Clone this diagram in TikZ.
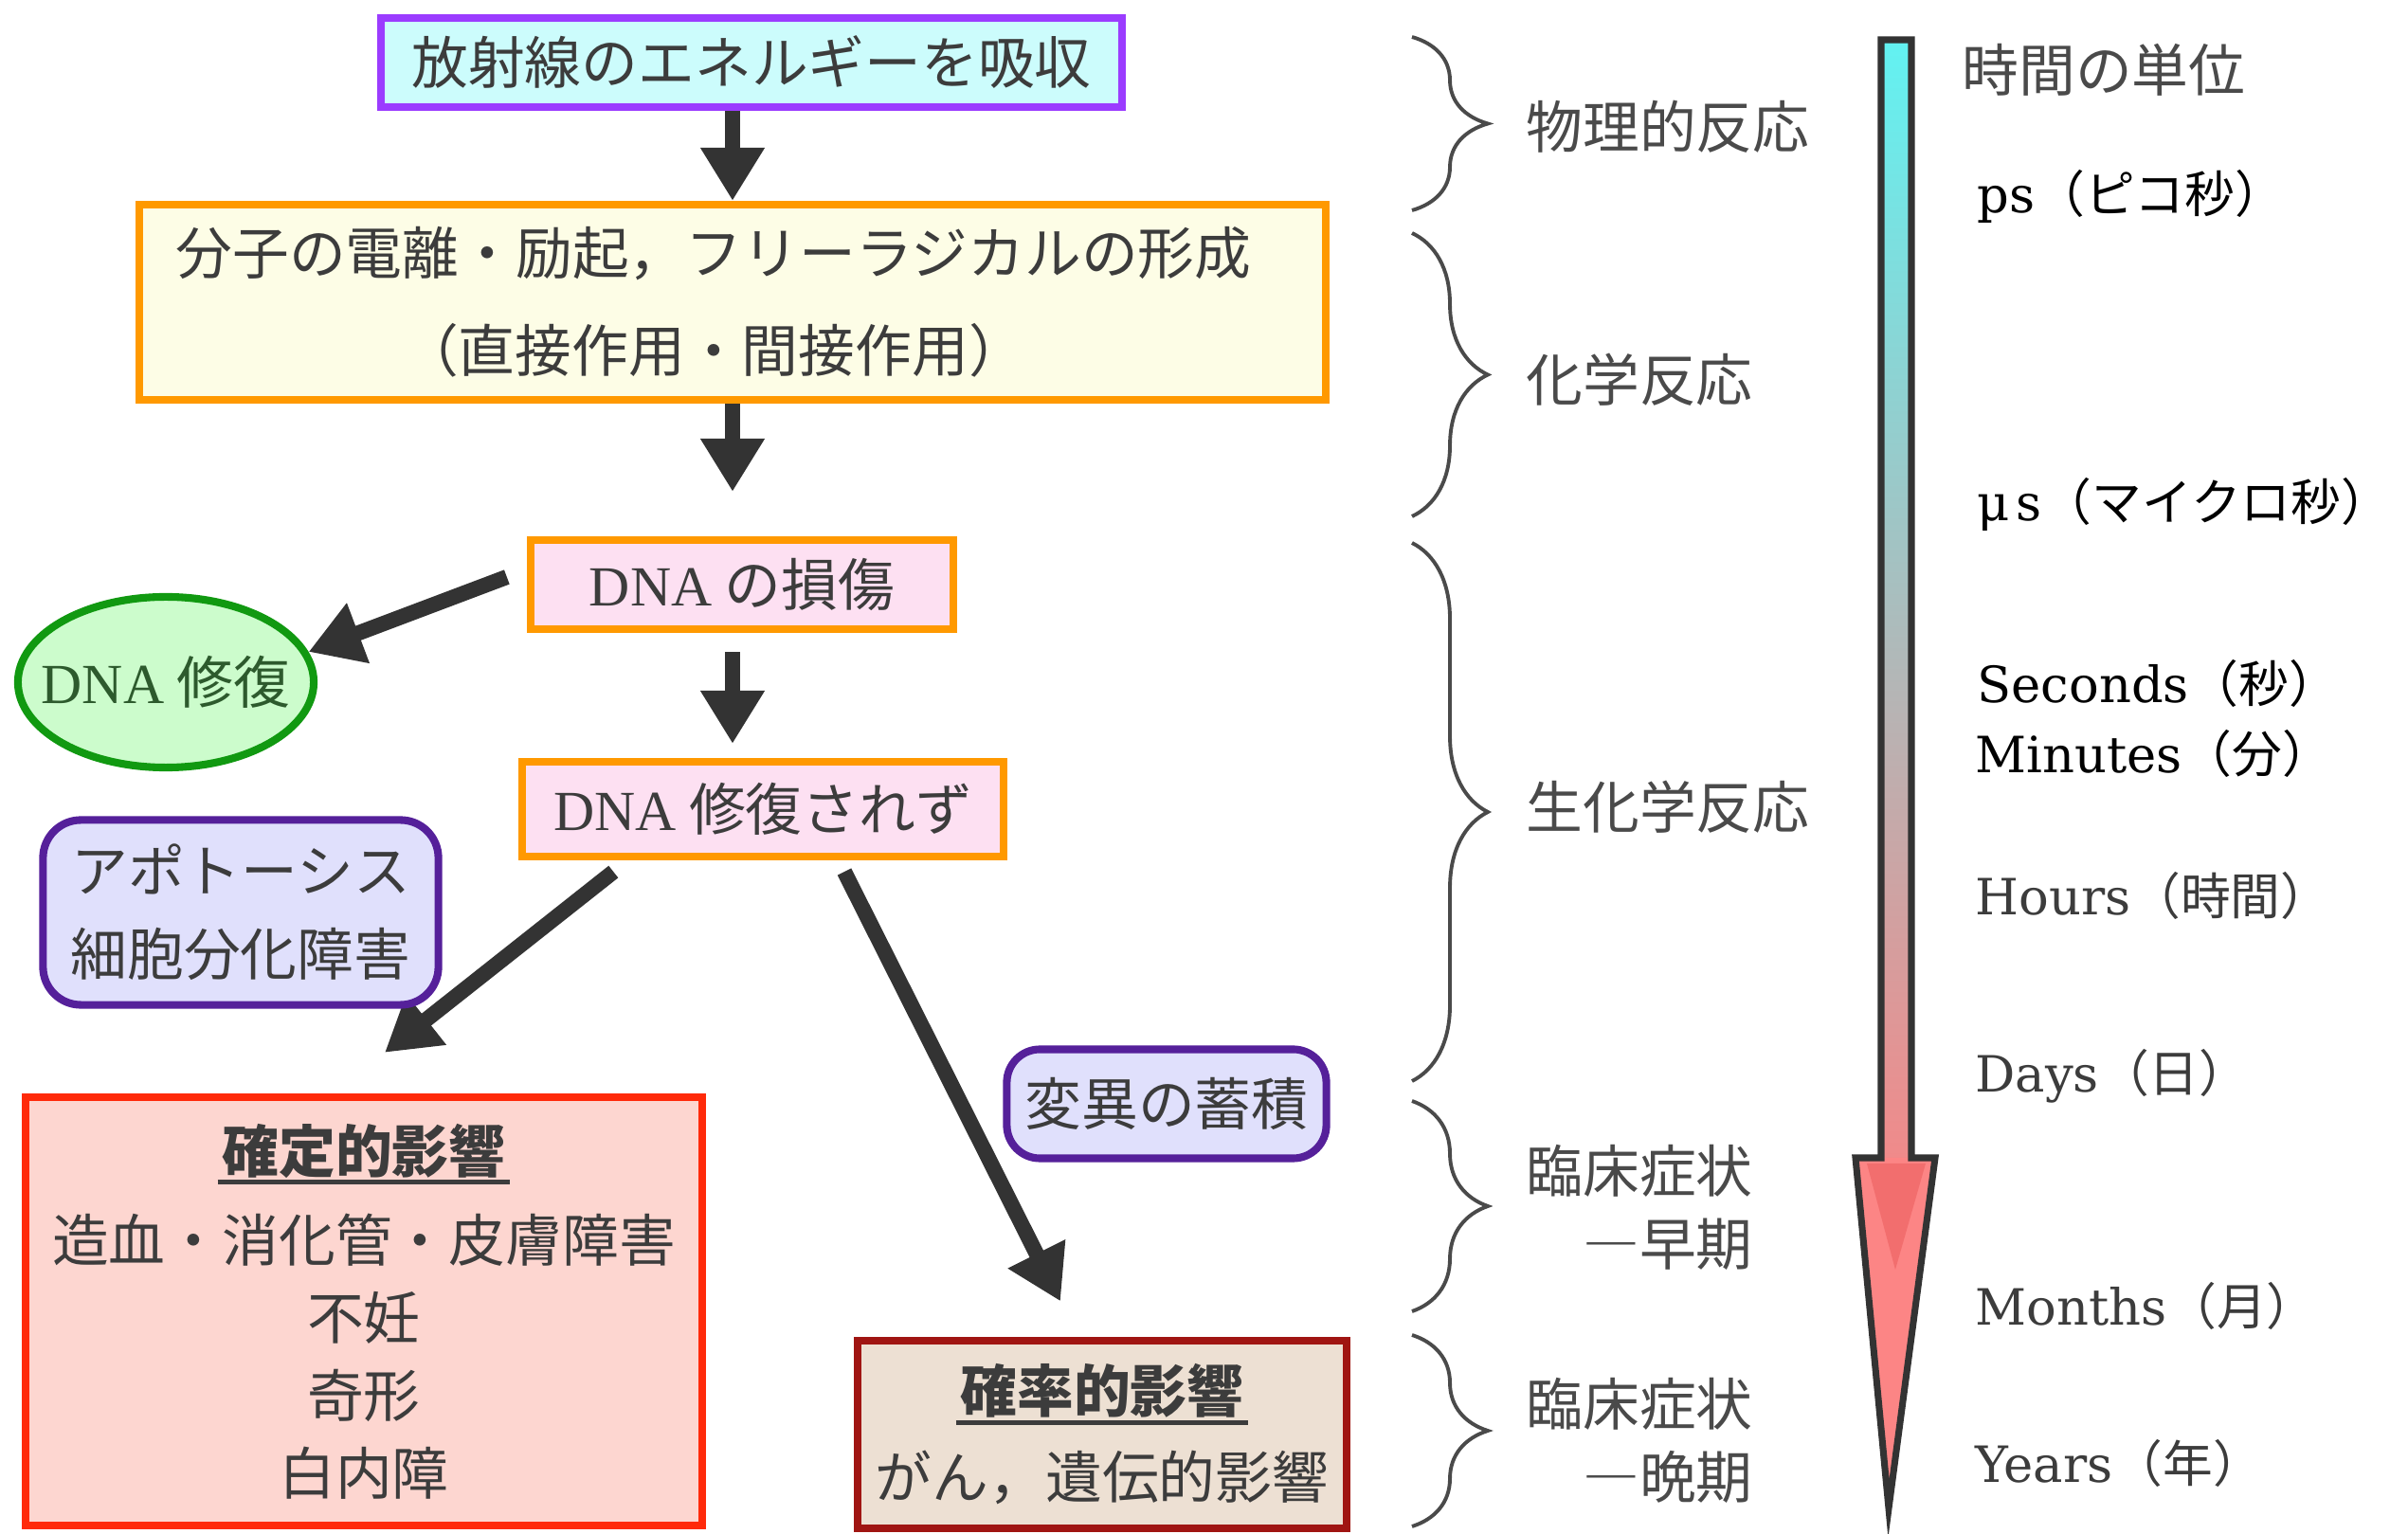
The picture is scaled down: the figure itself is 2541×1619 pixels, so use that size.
\documentclass[tikz,border=0pt]{standalone}
\usepackage{fontspec}
\setmainfont{Noto Sans CJK JP}
\newfontfamily\romanfont{Liberation Serif}
\newfontfamily\unitfont{DejaVu Serif}
\usepackage{xcolor}
\usetikzlibrary{arrows.meta,calc,shapes.geometric,decorations.pathreplacing}
\definecolor{textgray}{HTML}{3C3C3C}
\definecolor{labelgray}{HTML}{4A4A4A}
\definecolor{arrowgray}{HTML}{333333}
\definecolor{violetedge}{HTML}{9B3CFF}
\definecolor{cyanfill}{HTML}{CCFCFC}
\definecolor{orangeedge}{HTML}{FF9900}
\definecolor{yellowfill}{HTML}{FDFDE6}
\definecolor{pinkfill}{HTML}{FDE0F2}
\definecolor{greenedge}{HTML}{119911}
\definecolor{greenfill}{HTML}{CCFCCC}
\definecolor{greentext}{HTML}{2D5A2D}
\definecolor{purpleedge}{HTML}{55209A}
\definecolor{lavenderfill}{HTML}{E0E0FC}
\definecolor{rededge}{HTML}{FF2A0A}
\definecolor{salmonfill}{HTML}{FDD6D0}
\definecolor{darkredge}{HTML}{A01512}
\definecolor{beigefill}{HTML}{EDE0D3}
\definecolor{timecyan}{HTML}{62F2F2}
\definecolor{timemid}{HTML}{C4C0C0}
\definecolor{timered}{HTML}{F08A8A}
\definecolor{headred}{HTML}{FC8585}
\definecolor{headdark}{HTML}{F26E6E}
\newcommand\effecthead[1]{\setbox0\hbox{\bfseries #1}\rlap{\hspace*{-0.05cm}\rule[-0.13cm]{\dimexpr\wd0+0.1cm}{1.4pt}}\box0}

\begin{document}
\begin{tikzpicture}[x=0.01cm,y=-0.01cm,
  every node/.style={font=\fontsize{17}{20}\selectfont, text=textgray},
  box/.style={draw, line width=2.3pt, inner sep=0pt},
  flow/.style={draw=arrowgray, line width=4.6pt, -{Triangle[length=0.56cm,width=0.64cm]}},
  stage/.style={decorate, decoration={brace, amplitude=0.8cm}, draw=labelgray, line width=1.1pt},
  stagelabel/.style={anchor=west, text=labelgray},
  unit/.style={anchor=west, text=black, font=\fontsize{15}{18}\selectfont}]
\fill[white] (0,0) rectangle (2541,1619);
\useasboundingbox (0,0) rectangle (2541,1619);

\node[box, draw=violetedge, fill=cyanfill, minimum width=7.81cm, minimum height=0.94cm] (absorb) at (793,66) {放射線のエネルギーを吸収};
\node[box, draw=orangeedge, fill=yellowfill, minimum width=12.52cm, minimum height=2.06cm, align=center, font=\fontsize{17}{29.3}\selectfont] (ion) at (773,319) {分子の電離・励起，フリーラジカルの形成\hspace*{0.4cm}\\（直接作用・間接作用）\hspace*{0.4cm}};
\node[box, draw=orangeedge, fill=pinkfill, minimum width=4.46cm, minimum height=0.94cm] (dmg) at (783,617) {{\romanfont DNA} の損傷};
\node[box, shape=ellipse, draw=greenedge, fill=greenfill, text=greentext, inner xsep=-0.22cm, minimum width=3.12cm, minimum height=1.80cm] (repair) at (175,720) {{\romanfont DNA} 修復};
\node[box, draw=orangeedge, fill=pinkfill, minimum width=5.07cm, minimum height=1.00cm] (nrep) at (805,854) {{\romanfont DNA} 修復されず};
\node[box, draw=rededge, fill=salmonfill, minimum width=7.14cm, minimum height=4.52cm, align=center, font=\fontsize{17}{23.3}\selectfont] (det) at (384,1384) {\effecthead{確定的影響}\\[0.12cm]造血・消化管・皮膚障害\\不妊\\奇形\\白内障};
\node[box, draw=darkredge, fill=beigefill, minimum width=5.15cm, minimum height=1.97cm, align=center, font=\fontsize{17}{23.3}\selectfont] (sto) at (1163,1514) {\effecthead{確率的影響}\\[0.09cm]がん，遺伝的影響};

\draw[flow] (absorb.south -| ion.north) -- (ion.north);
\draw[flow] (ion.south) -- ($(ion.south |- dmg.north)+(0,-47)$);
\draw[flow] ($(dmg.south)+(-10,20)$) -- ($(dmg.south |- nrep.north)+(-10,-15)$);
\draw[flow] ($(dmg.west)+(-21,-8)$) -- (repair.12);
\draw[flow] ($(nrep.south west)+(100,12)$) -- ($(det.north)+(22,-43)$);
\draw[flow] ($(nrep.south)+(86,12)$) -- ($(sto.north)+(-44,-38)$);

\node[box, draw=purpleedge, fill=lavenderfill, rounded corners=0.4cm, minimum width=4.17cm, minimum height=1.95cm, align=center, font=\fontsize{17}{25}\selectfont] (apop) at (254,963) {アポトーシス\\細胞分化障害};
\node[box, draw=purpleedge, fill=lavenderfill, rounded corners=0.35cm, minimum width=3.37cm, minimum height=1.15cm] (mut) at (1231,1165) {変異の蓄積};

\draw[stage] (1490,39) -- (1490,222);
\draw[stage] (1490,246) -- (1490,545);
\draw[stage] (1490,573) -- (1490,1141);
\draw[stage] (1490,1162) -- (1490,1384);
\draw[stage] (1490,1409) -- (1490,1611);
\node[stagelabel] (phys) at (1598,134) {物理的反応};
\node[stagelabel] (chem) at (1598,401) {化学反応};
\node[stagelabel] (bio) at (1598,852) {生化学反応};
\node[stagelabel, align=right, font=\fontsize{17}{21.9}\selectfont] (early) at (1598,1274) {臨床症状\\―早期};
\node[stagelabel, align=right, font=\fontsize{17}{21.9}\selectfont] (late) at (1598,1520) {臨床症状\\―晩期};

\shade[top color=timecyan, middle color=timemid, bottom color=timered] (1985,42) rectangle (2017,1222);
\fill[headred] (1958,1222) -- (2042,1222) -- (1993,1592) -- cycle;
\fill[headdark] (1970,1228) -- (2032,1228) -- (2000,1340) -- cycle;
\draw[line width=2pt, draw=arrowgray, line join=miter] (1985,42) -- (2017,42) -- (2017,1222) -- (2042,1222) -- (1993,1592) -- (1958,1222) -- (1985,1222) -- cycle;

\node[unit, text=labelgray, font=\fontsize{17}{20}\selectfont] (tunit) at (2058,74) {時間の単位};
\node[unit] (ps) at (2074,207) {{\unitfont ps}（ピコ秒）};
\node[unit] (us) at (2074,532) {{\unitfont μ\kern2pt s}（マイクロ秒）};
\node[unit] (sec) at (2074,721) {{\unitfont Seconds}（秒）};
\node[unit] (min) at (2072,795) {{\unitfont Minutes}（分）};
\node[unit, text=textgray] (hrs) at (2072,945) {{\unitfont Hours}（時間）};
\node[unit, text=textgray] (day) at (2072,1136) {{\unitfont Days}（日）};
\node[unit, text=textgray] (mon) at (2072,1378) {{\unitfont Months}（月）};
\node[unit, text=textgray] (yrs) at (2072,1544) {{\unitfont Years}（年）};
\end{tikzpicture}
\end{document}
